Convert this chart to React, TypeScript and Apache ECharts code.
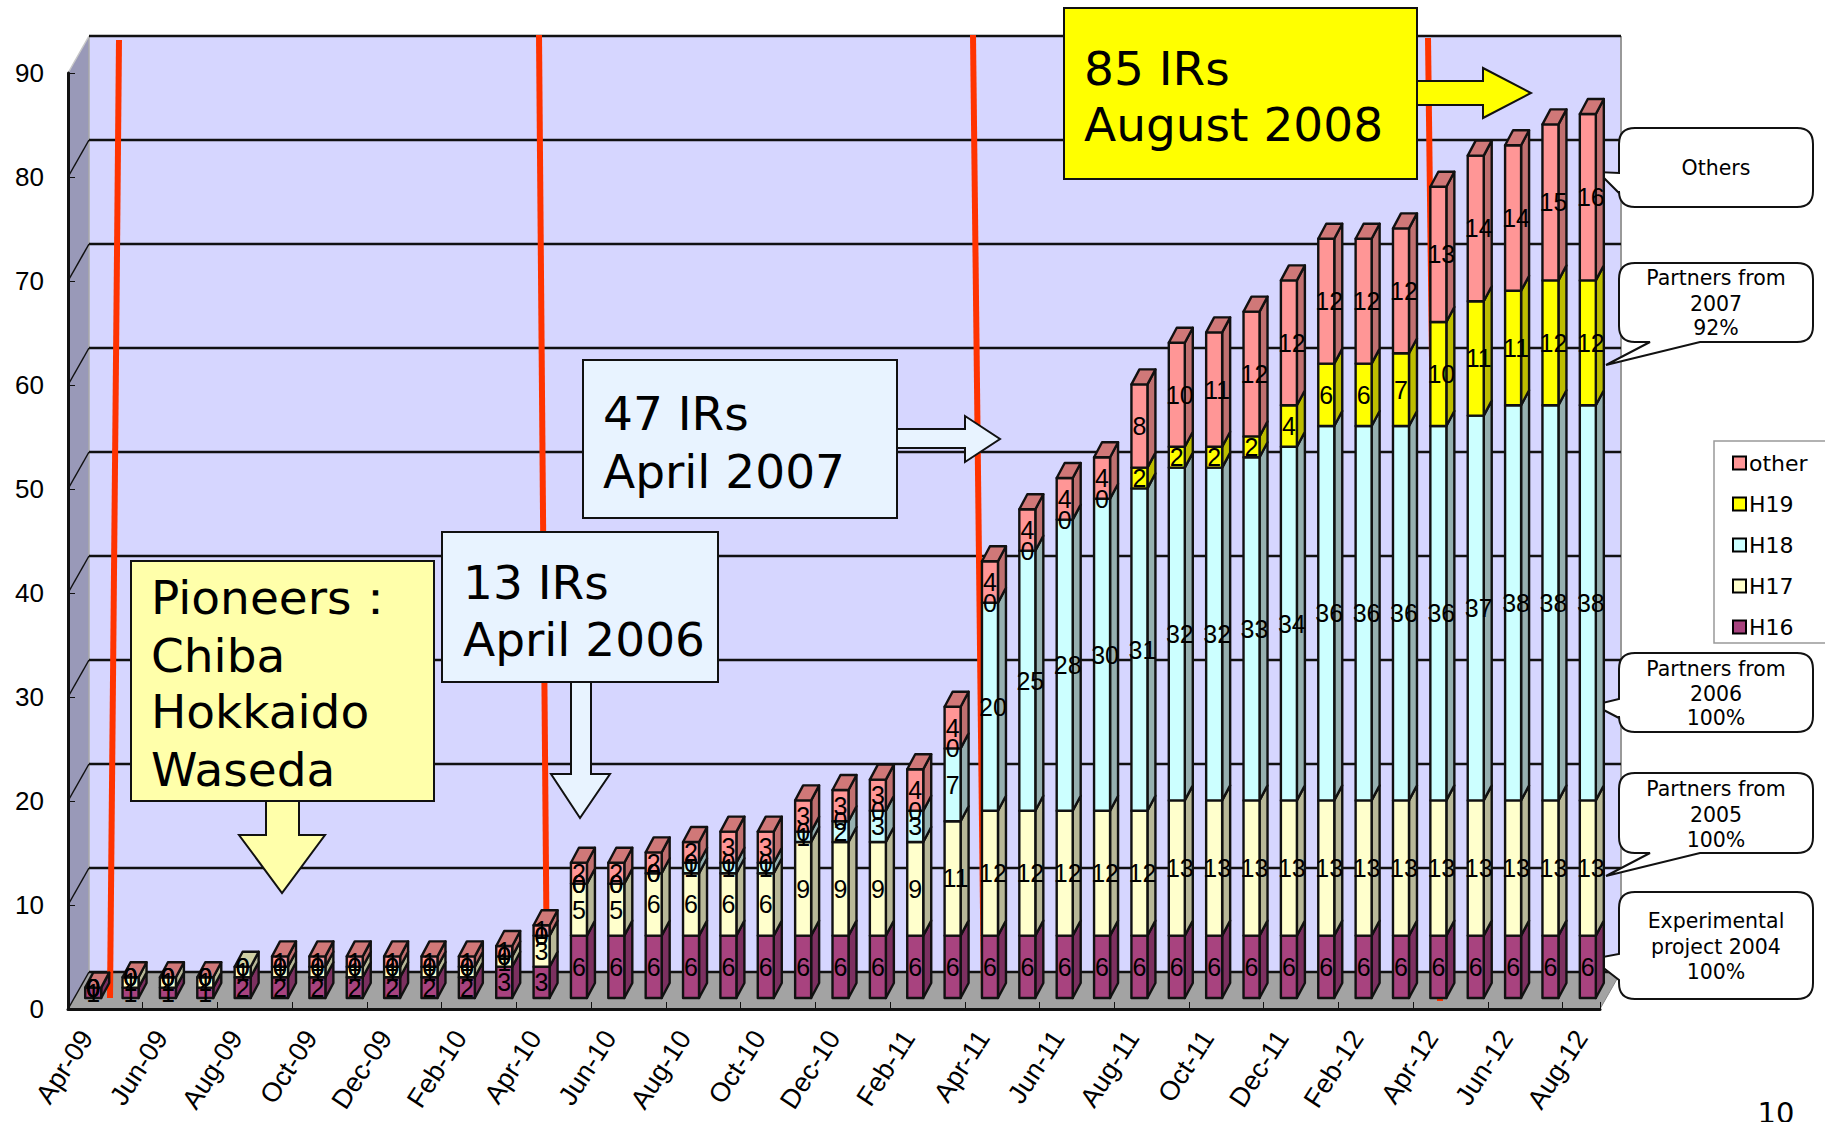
import React, { useEffect, useRef } from "react";
import * as echarts from "echarts";

const months = ["Apr-09","May-09","Jun-09","Jul-09","Aug-09","Sep-09","Oct-09","Nov-09","Dec-09","Jan-10","Feb-10","Mar-10","Apr-10","May-10","Jun-10","Jul-10","Aug-10","Sep-10","Oct-10","Nov-10","Dec-10","Jan-11","Feb-11","Mar-11","Apr-11","May-11","Jun-11","Jul-11","Aug-11","Sep-11","Oct-11","Nov-11","Dec-11","Jan-12","Feb-12","Mar-12","Apr-12","May-12","Jun-12","Jul-12","Aug-12"];
const h16 = [1,1,1,1,2,2,2,2,2,2,2,3,3,6,6,6,6,6,6,6,6,6,6,6,6,6,6,6,6,6,6,6,6,6,6,6,6,6,6,6,6];
const h17 = [0,1,1,1,1,1,1,1,1,1,1,1,3,5,5,6,6,6,6,9,9,9,9,11,12,12,12,12,12,13,13,13,13,13,13,13,13,13,13,13,13];
const h18 = [0,0,0,0,0,0,0,0,0,0,0,0,0,0,0,0,1,1,1,1,2,3,3,7,20,25,28,30,31,32,32,33,34,36,36,36,36,37,38,38,38];
const h19 = [0,0,0,0,0,0,0,0,0,0,0,0,0,0,0,0,0,0,0,0,0,0,0,0,0,0,0,0,2,2,2,2,4,6,6,7,10,11,11,12,12];
const other = [0,0,0,0,null,1,1,1,1,1,1,1,1,2,2,2,2,3,3,3,3,3,4,4,4,4,4,4,8,10,11,12,12,12,12,12,13,14,14,15,16];
const yTicks = [0,10,20,30,40,50,60,70,80,90];

const seriesNames = ["H16","H17","H18","H19","other"];
const seriesValues = [h16,h17,h18,h19,other];
const frontColors = ["#A8437F","#FFFFCC","#CCFFFF","#FFFF00","#FF9696"];
const sideColors = ["#7C3060","#B8B898","#96B0B0","#BDBD00","#C07070"];
const topColors = ["#8E3A6C","#D0D0A4","#A8D0D0","#D0D000","#D07878"];

const ink = "#111111";
const WALL_DX = 21, WALL_DY = -37;
const BAR_X = 6.5, BAR_Y = -11, BAR_HALF = 8, DEPTH_X = 8, DEPTH_Y = -15;

function stackBase(seriesIndex: number, i: number) {
  let sum = 0;
  for (let s = 0; s < seriesIndex; s++) sum += seriesValues[s][i] || 0;
  return sum;
}
function ownsTop(seriesIndex: number, i: number) {
  if (other[i] != null) return seriesIndex === 4;
  let last = 0;
  for (let s = 0; s < 4; s++) if ((seriesValues[s][i] || 0) > 0) last = s;
  return seriesIndex === last;
}

function barItem(seriesIndex: number) {
  return (params: any, api: any) => {
    const i = params.dataIndex;
    const v = seriesValues[seriesIndex][i];
    const p0 = api.coord([api.value(0), api.value(1)]);
    const p1 = api.coord([api.value(0), api.value(2)]);
    const x0 = p0[0] + BAR_X - BAR_HALF, x1 = p0[0] + BAR_X + BAR_HALF;
    const yb = p0[1] + BAR_Y, yt = p1[1] + BAR_Y;
    const children: any[] = [];
    const stroke = { stroke: ink, lineWidth: 2.4, lineJoin: "round" };
    if (v) {
      children.push({
        type: "polygon",
        shape: { points: [[x1, yb], [x1 + DEPTH_X, yb + DEPTH_Y], [x1 + DEPTH_X, yt + DEPTH_Y], [x1, yt]] },
        style: { fill: sideColors[seriesIndex], ...stroke },
      });
      children.push({
        type: "polygon",
        shape: { points: [[x0, yb], [x1, yb], [x1, yt], [x0, yt]] },
        style: { fill: frontColors[seriesIndex], ...stroke },
      });
    }
    if (ownsTop(seriesIndex, i)) {
      children.push({
        type: "polygon",
        z2: 5,
        shape: { points: [[x0, yt], [x1, yt], [x1 + DEPTH_X, yt + DEPTH_Y], [x0 + DEPTH_X, yt + DEPTH_Y]] },
        style: { fill: topColors[seriesIndex], ...stroke },
      });
    }
    if (v != null) {
      children.push({
        type: "text",
        z2: 100,
        style: {
          text: String(v),
          x: (x0 + x1) / 2 + (v >= 10 ? 3 : 0),
          y: (yb + yt) / 2,
          fontSize: 25,
          fontFamily: "Liberation Sans",
          fill: "#000",
          align: "center",
          verticalAlign: "middle",
          textAlign: "center",
          textVerticalAlign: "middle",
        },
      });
    }
    return { type: "group", children };
  };
}

function chromeItem(params: any, api: any) {
  const c = params.coordSys;
  const L = c.x, R = c.x + c.width;
  const bottom = api.coord([0, 0])[1];
  const top = api.coord([0, 90])[1];
  const children: any[] = [
    { type: "polygon", shape: { points: [[L + WALL_DX, top + WALL_DY], [R + WALL_DX, top + WALL_DY], [R + WALL_DX, bottom + WALL_DY], [L + WALL_DX, bottom + WALL_DY]] }, style: { fill: "#D6D6FF" } },
    { type: "polygon", shape: { points: [[L, top], [L + WALL_DX, top + WALL_DY], [L + WALL_DX, bottom + WALL_DY], [L, bottom]] }, style: { fill: "#9999B8" } },
    { type: "polygon", shape: { points: [[L, bottom], [R, bottom], [R + WALL_DX, bottom + WALL_DY], [L + WALL_DX, bottom + WALL_DY]] }, style: { fill: "#A3A3A3" } },
    { type: "line", shape: { x1: R + WALL_DX, y1: top + WALL_DY, x2: R + WALL_DX, y2: bottom + WALL_DY }, style: { stroke: "#999999", lineWidth: 2 } },
    { type: "line", shape: { x1: L + WALL_DX, y1: top + WALL_DY, x2: L + WALL_DX, y2: bottom + WALL_DY }, style: { stroke: "#AAAAAA", lineWidth: 1.5 } },
  ];
  yTicks.forEach((t) => {
    const y = api.coord([0, t])[1];
    children.push({ type: "line", shape: { x1: L, y1: y, x2: L + WALL_DX, y2: y + WALL_DY }, style: { stroke: t === 90 ? "#C8C8C8" : ink, lineWidth: 1.5 } });
    children.push({ type: "line", shape: { x1: L + WALL_DX, y1: y + WALL_DY, x2: R + WALL_DX, y2: y + WALL_DY }, style: { stroke: ink, lineWidth: 2.5 } });
  });
  children.push({ type: "line", shape: { x1: R, y1: bottom, x2: R + WALL_DX, y2: bottom + WALL_DY }, style: { stroke: "#888888", lineWidth: 1 } });
  return { type: "group", children };
}

function calloutPath(x0: number, y0: number, x1: number, y1: number, r: number, tail: "left" | "bottom", t: number[]) {
  let d = `M ${x0 + r} ${y0} L ${x1 - r} ${y0} Q ${x1} ${y0} ${x1} ${y0 + r} L ${x1} ${y1 - r} Q ${x1} ${y1} ${x1 - r} ${y1} `;
  if (tail === "bottom") d += `L ${t[1]} ${y1} L ${t[2]} ${t[3]} L ${t[0]} ${y1} `;
  d += `L ${x0 + r} ${y1} Q ${x0} ${y1} ${x0} ${y1 - r} `;
  if (tail === "left") d += `L ${x0} ${t[3]} L ${t[1]} ${t[2]} L ${x0} ${t[0]} `;
  d += `L ${x0} ${y0 + r} Q ${x0} ${y0} ${x0 + r} ${y0} Z`;
  return d;
}

const callouts = [
  { name: "cOthers", box: [1619, 128, 1813, 207], tail: "left", t: [173, 1598, 172, 193], cx: 1716, lines: [["Others", 168]] },
  { name: "c2007", box: [1619, 263, 1813, 342], tail: "bottom", t: [1650, 1700, 1606, 365], cx: 1716, lines: [["Partners from", 278], ["2007", 304], ["92%", 328]] },
  { name: "c2006", box: [1619, 653, 1813, 732], tail: "left", t: [699, 1594, 705, 718], cx: 1716, lines: [["Partners from", 669], ["2006", 694], ["100%", 718]] },
  { name: "c2005", box: [1619, 773, 1813, 853], tail: "bottom", t: [1650, 1700, 1606, 876], cx: 1716, lines: [["Partners from", 789], ["2005", 815], ["100%", 840]] },
  { name: "c2004", box: [1619, 892, 1813, 999], tail: "left", t: [954, 1592, 959, 980], cx: 1716, lines: [["Experimental", 921], ["project 2004", 947], ["100%", 972]] },
];
callouts.forEach((c) => {
  const [x0, y0, x1, y1] = c.box;
  (echarts.graphic as any).registerShape(c.name, (echarts.graphic as any).extendPath(calloutPath(x0, y0, x1, y1, 16, c.tail as any, c.t), {}));
});

const redLines = [
  [119, 40, 110, 998],
  [539, 35, 547, 992],
  [973, 35, 984, 998],
  [1428, 38, 1440, 1001],
];

const noteBoxes = [
  { rect: [131, 561, 303, 240], fill: "#FFFFAA", x: 151, lines: [["Pioneers：", 597], ["Chiba", 655], ["Hokkaido", 711], ["Waseda", 769]],
    arrow: [[266, 801], [299, 801], [299, 835], [325, 835], [282, 893], [239, 835], [266, 835]] },
  { rect: [442, 532, 276, 150], fill: "#E8F3FF", x: 463, lines: [["13 IRs", 582], ["April 2006", 639]],
    arrow: [[571, 682], [591, 682], [591, 774], [610, 774], [580, 818], [551, 774], [571, 774]] },
  { rect: [583, 360, 314, 158], fill: "#E8F3FF", x: 603, lines: [["47 IRs", 413], ["April 2007", 471]],
    arrow: [[897, 429], [965, 429], [965, 416], [1000, 439], [965, 462], [965, 448], [897, 448]] },
  { rect: [1064, 8, 353, 171], fill: "#FFFF00", x: 1084, lines: [["85 IRs", 68], ["August 2008", 124]],
    arrow: [[1417, 81], [1483, 81], [1483, 68], [1531, 93], [1483, 118], [1483, 105], [1417, 105]] },
];

function txt(text: string, x: number, y: number, fontSize: number, align: string, extra: any = {}) {
  return {
    type: "text",
    x, y,
    style: { text, fontSize, fontFamily: "DejaVu Sans", fill: "#000", align, verticalAlign: "middle", textAlign: align, textVerticalAlign: "middle", ...extra },
  };
}

function buildGraphics() {
  const els: any[] = [];
  redLines.forEach((l) => {
    els.push({ type: "line", shape: { x1: l[0], y1: l[1], x2: l[2], y2: l[3] }, style: { stroke: "#FF3300", lineWidth: 6 } });
  });
  noteBoxes.forEach((b) => {
    els.push({ type: "polygon", shape: { points: b.arrow }, style: { fill: b.fill, stroke: ink, lineWidth: 2 } });
    els.push({ type: "rect", shape: { x: b.rect[0], y: b.rect[1], width: b.rect[2], height: b.rect[3] }, style: { fill: b.fill, stroke: ink, lineWidth: 2 } });
    b.lines.forEach((ln) => els.push(txt(ln[0] as string, b.x, ln[1] as number, 47, "left")));
  });
  callouts.forEach((c) => {
    els.push({ type: c.name, style: { fill: "#fff", stroke: ink, lineWidth: 2 } });
    c.lines.forEach((ln) => els.push(txt(ln[0] as string, c.cx, ln[1] as number, 20.5, "center")));
  });
  els.push({ type: "polyline", shape: { points: [[1825, 441], [1714, 441], [1714, 643], [1825, 643]] }, style: { stroke: "#999999", lineWidth: 1.5, fill: "none" } });
  els.push(txt("10", 1776, 1113, 29, "center"));
  els.forEach((e, i) => { e.z2 = i; });
  return els;
}

export default function App() {
  const ref = useRef<HTMLDivElement>(null);
  useEffect(() => {
    const chart = echarts.init(ref.current!, null, { renderer: "svg" });
    chart.setOption({
      animation: false,
      backgroundColor: "#fff",
      grid: { left: 68, right: 225, top: 73, bottom: 113 },
      xAxis: {
        type: "category",
        data: months,
        z: 3,
        axisLine: { lineStyle: { color: ink, width: 3 } },
        axisTick: { show: true, inside: true, length: 7, interval: 1, lineStyle: { color: ink, width: 1 } },
        axisLabel: { interval: 1, rotate: 57, margin: 24, fontSize: 27, color: "#000", fontFamily: "Liberation Sans", hideOverlap: false },
        splitLine: { show: false },
      },
      yAxis: {
        type: "value",
        min: 0,
        max: 90,
        interval: 10,
        z: 3,
        axisLine: { show: true, lineStyle: { color: ink, width: 3 } },
        axisTick: { show: true, inside: true, length: 7, lineStyle: { color: ink, width: 1 } },
        axisLabel: { fontSize: 26, margin: 24, color: "#000", fontFamily: "Liberation Sans", padding: [4, 0, 0, 0] },
        splitLine: { show: false },
      },
      legend: {
        orient: "vertical",
        left: 1724,
        top: 444,
        padding: 8,
        itemWidth: 13,
        itemHeight: 13,
        itemGap: 19,
        icon: "rect",
        data: ["other", "H19", "H18", "H17", "H16"],
        itemStyle: { borderColor: "#000", borderWidth: 2 },
        textStyle: { fontSize: 22, fontFamily: "DejaVu Sans", color: "#000", padding: [14, 0, 0, -2] },
      },
      graphic: { z: 20, elements: buildGraphics() },
      series: [
        {
          type: "custom",
          name: "chrome",
          z: -1,
          silent: true,
          clip: false,
          coordinateSystem: "cartesian2d",
          renderItem: chromeItem,
          data: [[0, 0]],
          encode: { x: 0, y: 1 },
        },
        ...seriesNames.map((name, s) => ({
          type: "custom",
          name,
          z: 2,
          clip: false,
          silent: true,
          coordinateSystem: "cartesian2d",
          itemStyle: { color: frontColors[s] },
          renderItem: barItem(s),
          encode: { x: 0, y: [1, 2] },
          data: months.map((_, i) => {
            const base = stackBase(s, i);
            return [i, base, base + (seriesValues[s][i] || 0)];
          }),
        })),
      ],
    });
    return () => chart.dispose();
  }, []);
  return <div ref={ref} style={{ position: "fixed", left: 0, top: 0, width: 1825, height: 1122 }} />;
}
